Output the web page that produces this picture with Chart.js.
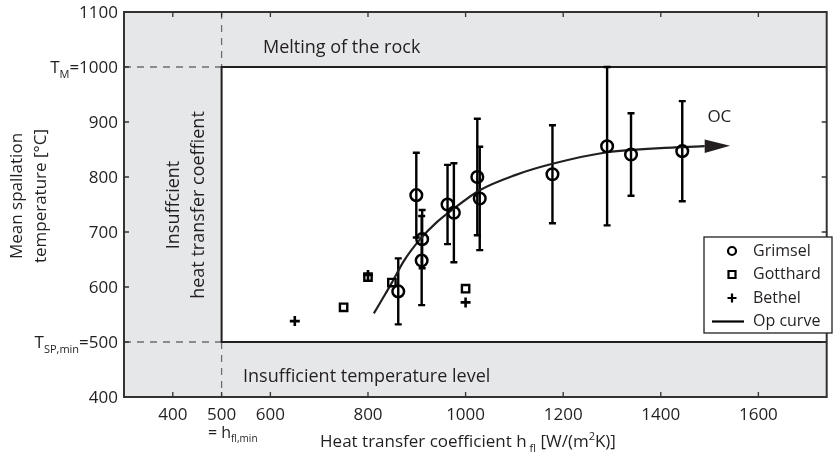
<!DOCTYPE html>
<html>
<head>
<meta charset="utf-8">
<script src="https://cdn.jsdelivr.net/npm/chart.js@4.4.1/dist/chart.umd.min.js"></script>
<style>
html,body{margin:0;padding:0;background:#fff;}
#wrap{width:835px;height:458px;position:relative;}
</style>
</head>
<body>
<div id="wrap"><canvas id="c" width="835" height="458"></canvas></div>
<script>
// ---- data ----
const grimselX   = [862, 899, 910, 911, 963, 976, 1024, 1029, 1178, 1290, 1339, 1444];
const grimselY   = [592, 767, 648, 687, 750, 735, 800, 761, 805, 856, 841, 847];
const grimselErr = [60, 77, 81, 53, 72, 90, 106, 94, 89, 144, 75, 91];
const gotthardX  = [750, 800, 849, 1000];
const gotthardY  = [563, 618, 608, 597];
const bethelX    = [650, 800, 1000];
const bethelY    = [538, 622, 572];
const opCurveX   = [812, 830, 849, 874, 907, 940, 975, 1029, 1100, 1178, 1290, 1429, 1490];
const opCurveY   = [552, 579, 608, 648, 687, 717, 742, 776, 803, 824, 845, 854, 856];
const arrowTip   = [1542, 857];
const xTickValues = [400, 500, 600, 800, 1000, 1200, 1400, 1600];
const xTickLabels = ['400', '500', '600', '800', '1000', '1200', '1400', '1600'];
const yTickValues = [400, 500, 600, 700, 800, 900, 1000, 1100];
const yTickLabels = [
  [['400','n']],
  [['T','n'],['SP,min','sub'],['=500','n']],
  [['600','n']], [['700','n']], [['800','n']], [['900','n']],
  [['T','n'],['M','sub'],['=1000','n']],
  [['1100','n']]
];
const hMin = 500, tMelt = 1000, tSpMin = 500;

const FONT = '"Open Sans", "DejaVu Sans", sans-serif';
const TXT = '#231f20';

function pts(xs, ys){ return xs.map((x,i)=>({x:x, y:ys[i]})); }

function drawRich(ctx, parts, x, y, align, size){
  const fN = size + 'px ' + FONT, fS = Math.round(size*0.62) + 'px ' + FONT;
  let w = 0;
  parts.forEach(p => { ctx.font = p[1]==='n' ? fN : fS; w += ctx.measureText(p[0]).width; });
  let cx = align==='right' ? x - w : (align==='center' ? x - w/2 : x);
  ctx.textAlign = 'left'; ctx.textBaseline = 'alphabetic';
  parts.forEach(p => {
    ctx.font = p[1]==='n' ? fN : fS;
    const dy = p[1]==='sub' ? size*0.28 : (p[1]==='sup' ? -size*0.42 : 0);
    ctx.fillText(p[0], cx, y + dy);
    cx += ctx.measureText(p[0]).width;
  });
}

const figurePlugin = {
  id: 'figure',
  beforeDatasetsDraw(chart){
    const ctx = chart.ctx, a = chart.chartArea, xs = chart.scales.x, ys = chart.scales.y;
    const xm = xs.getPixelForValue(hMin), yTop = ys.getPixelForValue(tMelt), yBot = ys.getPixelForValue(tSpMin);
    ctx.save();
    ctx.fillStyle = '#e6e7e8';
    ctx.fillRect(a.left, a.top, a.right-a.left, a.bottom-a.top);
    ctx.fillStyle = '#ffffff';
    ctx.fillRect(xm, yTop, a.right-xm, yBot-yTop);
    // dashed guides
    ctx.strokeStyle = '#6d6e71'; ctx.lineWidth = 1.3; ctx.setLineDash([7,6]);
    ctx.beginPath();
    ctx.moveTo(a.left, yTop); ctx.lineTo(xm, yTop);
    ctx.moveTo(a.left, yBot); ctx.lineTo(xm, yBot);
    ctx.moveTo(xm, a.top); ctx.lineTo(xm, yTop);
    ctx.moveTo(xm, yBot); ctx.lineTo(xm, a.bottom);
    ctx.stroke();
    ctx.setLineDash([]);
    // white region border
    ctx.strokeStyle = '#231f20'; ctx.lineWidth = 2;
    ctx.beginPath();
    ctx.moveTo(a.right, yTop); ctx.lineTo(xm, yTop); ctx.lineTo(xm, yBot); ctx.lineTo(a.right, yBot);
    ctx.stroke();
    // region texts
    ctx.fillStyle = TXT;
    ctx.font = '18px ' + FONT; ctx.textAlign = 'left'; ctx.textBaseline = 'alphabetic';
    ctx.fillText('Melting of the rock', 263, 53);
    ctx.fillText('Insufficient temperature level', 243, 382);
    ctx.save();
    ctx.translate(179, 205); ctx.rotate(-Math.PI/2);
    ctx.textAlign = 'center';
    ctx.fillText('Insuffcient', 0, 0);
    ctx.fillText('heat transfer coeffient', 0, 25);
    ctx.restore();
    // error bars
    ctx.strokeStyle = '#000'; ctx.lineWidth = 2.4;
    grimselX.forEach((x,i) => {
      const px = xs.getPixelForValue(x);
      const hi = ys.getPixelForValue(grimselY[i] + grimselErr[i]);
      const lo = ys.getPixelForValue(grimselY[i] - grimselErr[i]);
      ctx.beginPath();
      ctx.moveTo(px, hi); ctx.lineTo(px, lo);
      ctx.moveTo(px-3.5, hi); ctx.lineTo(px+3.5, hi);
      ctx.moveTo(px-3.5, lo); ctx.lineTo(px+3.5, lo);
      ctx.stroke();
    });
    ctx.restore();
  },
  afterDatasetsDraw(chart){
    const ctx = chart.ctx, a = chart.chartArea, xs = chart.scales.x, ys = chart.scales.y;
    ctx.save();
    // arrow head
    const lastX = opCurveX[opCurveX.length-1], lastY = opCurveY[opCurveY.length-1];
    const bx = xs.getPixelForValue(lastX), by = ys.getPixelForValue(lastY);
    const tx = xs.getPixelForValue(arrowTip[0]), ty = ys.getPixelForValue(arrowTip[1]);
    ctx.fillStyle = '#231f20';
    ctx.beginPath();
    ctx.moveTo(tx, ty); ctx.lineTo(bx, by-6.7); ctx.lineTo(bx, by+6.7); ctx.closePath(); ctx.fill();
    // OC label
    ctx.fillStyle = TXT; ctx.font = '17px ' + FONT; ctx.textAlign = 'center'; ctx.textBaseline = 'middle';
    ctx.fillText('OC', xs.getPixelForValue(1520), ys.getPixelForValue(908));
    // frame
    ctx.strokeStyle = '#333333'; ctx.lineWidth = 2;
    ctx.strokeRect(a.left, a.top, a.right-a.left, a.bottom-a.top);
    // ticks
    ctx.lineWidth = 1.3; ctx.strokeStyle = '#333';
    ctx.beginPath();
    xTickValues.forEach(v => {
      const px = xs.getPixelForValue(v);
      ctx.moveTo(px, a.bottom); ctx.lineTo(px, a.bottom-5);
      ctx.moveTo(px, a.top); ctx.lineTo(px, a.top+5);
    });
    yTickValues.forEach(v => {
      const py = ys.getPixelForValue(v);
      ctx.moveTo(a.left, py); ctx.lineTo(a.left+5, py);
      ctx.moveTo(a.right, py); ctx.lineTo(a.right-5, py);
    });
    ctx.stroke();
    // tick labels
    ctx.fillStyle = TXT;
    xTickValues.forEach((v,i) => {
      drawRich(ctx, [[xTickLabels[i],'n']], xs.getPixelForValue(v), a.bottom + 23, 'center', 17);
    });
    drawRich(ctx, [['= h','n'],['fl,min','sub']], 208, 438, 'left', 16);
    yTickValues.forEach((v,i) => {
      drawRich(ctx, yTickLabels[i], a.left - 6, ys.getPixelForValue(v) + 6, 'right', 17);
    });
    // axis titles
    drawRich(ctx, [['Heat transfer coefficient h','n'],[' fl','sub'],[' [W/(m','n'],['2','sup'],['K)]','n']], 468, 447, 'center', 17);
    ctx.save();
    ctx.translate(22, 196); ctx.rotate(-Math.PI/2);
    ctx.font = '17px ' + FONT; ctx.textAlign = 'center'; ctx.textBaseline = 'alphabetic';
    ctx.fillText('Mean spallation', 0, 0);
    ctx.fillText('temperature [°C]', 0, 24);
    ctx.restore();
    // legend
    const L = {x:704, y:237, w:128, h:96};
    ctx.fillStyle = '#fff'; ctx.fillRect(L.x, L.y, L.w, L.h);
    ctx.strokeStyle = '#231f20'; ctx.lineWidth = 1.3; ctx.strokeRect(L.x, L.y, L.w, L.h);
    const rows = ['Grimsel','Gotthard','Bethel','Op curve'];
    ctx.font = '16px ' + FONT; ctx.textAlign = 'left'; ctx.textBaseline = 'middle'; ctx.fillStyle = TXT;
    rows.forEach((r,i) => {
      const cy = L.y + 14 + i*23.5, mx = 732;
      ctx.strokeStyle = '#000'; ctx.lineWidth = 2.2;
      ctx.beginPath();
      if (i===0){ ctx.arc(mx, cy, 4, 0, Math.PI*2); }
      else if (i===1){ ctx.rect(mx-3.5, cy-3.5, 7, 7); }
      else if (i===2){ ctx.moveTo(mx-4.5, cy); ctx.lineTo(mx+4.5, cy); ctx.moveTo(mx, cy-4.5); ctx.lineTo(mx, cy+4.5); }
      else { ctx.moveTo(712, cy); ctx.lineTo(744, cy); }
      ctx.stroke();
      ctx.fillText(r, 753, cy);
    });
    ctx.restore();
  }
};

new Chart(document.getElementById('c'), {
  type: 'scatter',
  data: {
    datasets: [
      { label: 'Op curve', type: 'line', data: pts(opCurveX, opCurveY), borderColor: '#231f20', borderWidth: 2.2,
        pointRadius: 0, cubicInterpolationMode: 'monotone', fill: false, order: 3 },
      { label: 'Grimsel', data: pts(grimselX, grimselY), pointStyle: 'circle', pointRadius: 5.8,
        borderColor: '#000', borderWidth: 2.5, backgroundColor: 'rgba(0,0,0,0)', order: 1 },
      { label: 'Gotthard', data: pts(gotthardX, gotthardY), pointStyle: 'rect', pointRadius: 5.2,
        borderColor: '#000', borderWidth: 2.4, backgroundColor: 'rgba(0,0,0,0)', order: 2 },
      { label: 'Bethel', data: pts(bethelX, bethelY), pointStyle: 'cross', pointRadius: 5,
        borderColor: '#000', borderWidth: 2.6, order: 2 }
    ]
  },
  options: {
    responsive: false, animation: false, devicePixelRatio: 1,
    layout: { padding: { left: 124, top: 12, right: 2, bottom: 61 } },
    plugins: { legend: { display: false }, tooltip: { enabled: false } },
    scales: {
      x: { type: 'linear', min: 300, max: 1740, display: false },
      y: { type: 'linear', min: 400, max: 1100, display: false }
    }
  },
  plugins: [figurePlugin]
});
</script>
</body>
</html>
